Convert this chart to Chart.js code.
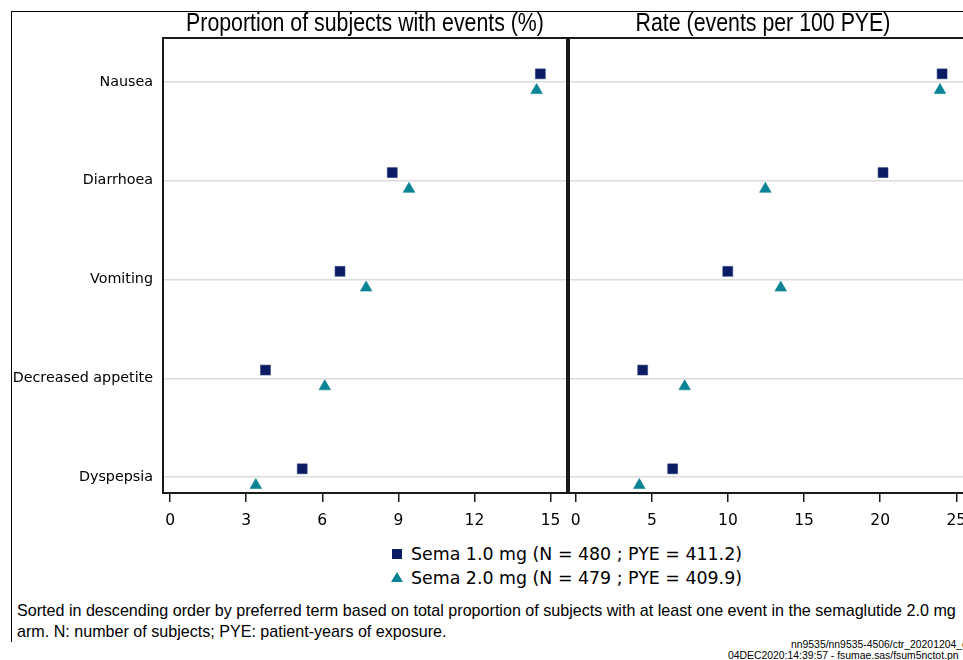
<!DOCTYPE html>
<html>
<head>
<meta charset="utf-8">
<script src="https://cdn.jsdelivr.net/npm/chart.js@4/dist/chart.umd.min.js"></script>
<style>
  html, body { margin: 0; padding: 0; background: #fff; overflow: hidden; }
  #page { position: relative; width: 1000px; height: 660px; }
  #frame { position: absolute; left: 11px; top: 11px; width: 1000px; height: 630px;
    border-top: 1px solid #000; border-left: 1px solid #000; }
  canvas { position: absolute; top: 0; }
  #leftChart { left: 0; }
  #rightChart { left: 567px; }
  .legendRow { position: absolute; left: 411px; font-family: 'DejaVu Sans'; font-size: 17.4px;
    line-height: 24px; color: #000; white-space: nowrap; }
  .square { position: absolute; left: 392px; width: 10px; height: 10px; background: #0b1c65; }
  .triangle { position: absolute; left: 391px; width: 0; height: 0; border-left: 6px solid transparent;
    border-right: 6px solid transparent; border-bottom: 10px solid #0a8394; }
  #footnote { position: absolute; left: 17px; top: 600px; font-family: 'Liberation Sans';
    font-size: 17px; line-height: 21px; color: #000; white-space: nowrap;
    transform: scaleX(0.947); transform-origin: 0 0; }
  .stamp { position: absolute; font-family: 'Liberation Sans'; font-size: 10.4px; line-height: 11px;
    color: #000; white-space: nowrap; }
</style>
</head>
<body>
<div id="page">
  <div id="frame"></div>
  <canvas id="leftChart" width="568" height="540"></canvas>
  <canvas id="rightChart" width="433" height="540"></canvas>
  <div class="square" style="top: 549px;"></div>
  <div class="legendRow" id="legend1" style="top: 542px;"></div>
  <div class="triangle" style="top: 572px;"></div>
  <div class="legendRow" id="legend2" style="top: 566px;"></div>
  <div id="footnote"></div>
  <div class="stamp" style="left: 791px; top: 639px;">nn9535/nn9535-4506/ctr_20201204_e</div>
  <div class="stamp" style="left: 728px; top: 650px;">04DEC2020:14:39:57 - fsumae.sas/fsum5nctot.pn</div>
</div>
<script>
'use strict';

// Adverse events, top to bottom
let events = ['Nausea', 'Diarrhoea', 'Vomiting', 'Decreased appetite', 'Dyspepsia'];

// Proportion of subjects with events (%)
let propSema10 = [14.6, 8.76, 6.7, 3.76, 5.21];
let propSema20 = [14.45, 9.42, 7.73, 6.1, 3.38];

// Rate (events per 100 PYE)
let rateSema10 = [24.07, 20.19, 9.99, 4.4, 6.37];
let rateSema20 = [23.93, 12.46, 13.47, 7.16, 4.18];

let propTicks = [0, 3, 6, 9, 12, 15];
let rateTicks = [0, 5, 10, 15, 20, 25];

let seriesLabels = [
  'Sema 1.0 mg (N = 480 ; PYE = 411.2)',
  'Sema 2.0 mg (N = 479 ; PYE = 409.9)',
];

let footnoteLines = [
  'Sorted in descending order by preferred term based on total proportion of subjects with at least one event in the semaglutide 2.0 mg',
  'arm. N: number of subjects; PYE: patient-years of exposure.',
];

let navy = '#0b1c65';
let teal = '#0a8394';
let dodge = 0.083;

// box round each panel plus its heading (narrowed sans)
let panelPlugin = {
  id: 'panelBox',
  afterDraw(chart, args, opts) {
    let ctx = chart.ctx;
    let a = chart.chartArea;
    ctx.save();
    ctx.strokeStyle = '#1a1a1a';
    ctx.lineWidth = 2;
    ctx.strokeRect(a.left, a.top, a.right - a.left, a.bottom - a.top);
    ctx.fillStyle = '#000';
    ctx.font = opts.font;
    ctx.textAlign = 'center';
    ctx.textBaseline = 'middle';
    let cx = opts.centerX === undefined ? (a.left + a.right) / 2 : a.left + opts.centerX;
    ctx.translate(cx, opts.y);
    ctx.scale(0.82, 1);
    ctx.fillText(opts.text, 0, 0);
    ctx.restore();
  },
};

function makePoints(values, offset) {
  let points = [];
  for (let i = 0; i < values.length; i++) {
    points.push({ x: values[i], y: i + offset });
  }
  return points;
}

function makeConfig(sema10, sema20, ticks, xMin, xMax, title, titleX, showLabels, padding) {
  return {
    type: 'scatter',
    data: {
      datasets: [
        {
          label: seriesLabels[0],
          data: makePoints(sema10, -dodge),
          pointStyle: 'rect',
          pointRadius: 7,
          backgroundColor: navy,
          borderColor: '#2a3a7a',
          borderWidth: 0.6,
        },
        {
          label: seriesLabels[1],
          data: makePoints(sema20, dodge),
          pointStyle: 'triangle',
          pointRadius: 6.7,
          backgroundColor: teal,
          borderColor: teal,
          borderWidth: 0.6,
        },
      ],
    },
    options: {
      responsive: false,
      animation: false,
      events: [],
      layout: { padding: padding, autoPadding: false },
      plugins: {
        legend: { display: false },
        tooltip: { enabled: false },
        panelBox: { text: title, centerX: titleX, font: '26px "Liberation Sans"', y: 24 },
      },
      scales: {
        x: {
          type: 'linear',
          min: xMin,
          max: xMax,
          afterBuildTicks: (scale) => {
            scale.ticks = ticks.map((v) => ({ value: v }));
          },
          afterFit: (scale) => {
            scale.height = 47;
            scale.paddingLeft = 0;
            scale.paddingRight = 0;
          },
          grid: {
            drawOnChartArea: false,
            drawTicks: true,
            tickLength: 9,
            color: '#1a1a1a',
            lineWidth: 1.5,
          },
          border: { display: false },
          ticks: {
            padding: 10,
            color: '#000',
            font: { family: 'DejaVu Sans', size: 15.5 },
            maxRotation: 0,
          },
        },
        y: {
          type: 'linear',
          reverse: true,
          min: -0.446,
          max: 4.162,
          afterBuildTicks: (scale) => {
            scale.ticks = events.map((e, i) => ({ value: i }));
          },
          afterFit: (scale) => {
            scale.width = showLabels ? 163 : 0;
            scale.paddingTop = 0;
            scale.paddingBottom = 0;
          },
          grid: {
            drawTicks: false,
            color: '#dcdcdc',
            lineWidth: 1.5,
          },
          border: { display: false },
          ticks: {
            display: showLabels,
            padding: 10,
            color: '#000',
            font: { family: 'DejaVu Sans', size: 14.3 },
            callback: (value) => events[value],
          },
        },
      },
    },
  };
}

Chart.register(panelPlugin);

let leftChart = new Chart(document.getElementById('leftChart'),
  makeConfig(propSema10, propSema20, propTicks, -0.28, 15.65,
    'Proportion of subjects with events (%)', undefined, true,
    { top: 38, right: 1, left: 0, bottom: 0 }));

let rightChart = new Chart(document.getElementById('rightChart'),
  makeConfig(rateSema10, rateSema20, rateTicks, -0.44, 26.1,
    'Rate (events per 100 PYE)', 194, false,
    { top: 38, right: 27, left: 2, bottom: 0 }));

document.getElementById('legend1').textContent = seriesLabels[0];
document.getElementById('legend2').textContent = seriesLabels[1];
document.getElementById('footnote').innerHTML = footnoteLines.join('<br>');
</script>
</body>
</html>
